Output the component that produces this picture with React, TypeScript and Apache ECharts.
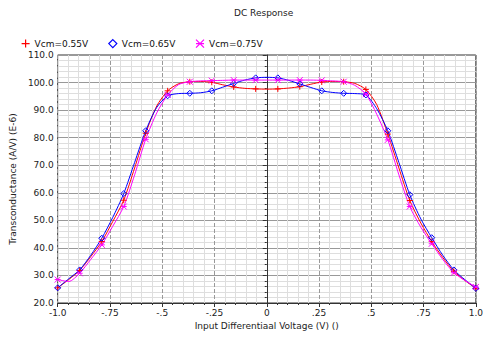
import React, { useEffect, useRef } from "react";
import * as echarts from "echarts";

const xs = [
  -1.0, -0.947, -0.895, -0.842, -0.789, -0.737, -0.684, -0.632, -0.579, -0.526,
  -0.474, -0.421, -0.368, -0.316, -0.263, -0.211, -0.158, -0.105, -0.053, 0.0,
  0.053, 0.105, 0.158, 0.211, 0.263, 0.316, 0.368, 0.421, 0.474, 0.526,
  0.579, 0.632, 0.684, 0.737, 0.789, 0.842, 0.895, 0.947, 1.0,
];

const vcm055 = [
  25.5, 28.5, 31.8, 36.8, 42.3, 49.5, 57.3, 69.0, 81.6, 91.5,
  97.0, 99.6, 100.3, 100.4, 100.1, 99.2, 98.4, 97.9, 97.7, 97.6,
  97.7, 98.0, 98.5, 99.4, 100.2, 100.4, 100.3, 99.7, 97.5, 92.0,
  81.3, 69.0, 57.2, 49.0, 42.3, 36.5, 31.5, 28.2, 25.3,
];

const vcm065 = [
  25.5, 28.8, 32.0, 37.3, 43.5, 51.0, 59.7, 71.0, 82.5, 91.0,
  95.2, 96.0, 96.1, 96.3, 97.0, 98.3, 99.7, 100.9, 101.7, 101.9,
  101.7, 100.8, 99.5, 98.2, 97.0, 96.4, 96.1, 96.0, 95.5, 90.5,
  82.5, 71.0, 59.3, 50.5, 43.7, 37.3, 32.0, 28.5, 25.3,
];

const vcm075 = [
  28.5, 27.8, 30.8, 35.8, 41.1, 47.8, 55.0, 66.5, 79.4, 89.0,
  95.5, 99.3, 100.3, 100.6, 100.7, 100.8, 100.9, 100.9, 100.9, 100.9,
  100.9, 100.9, 100.9, 100.9, 100.8, 100.6, 100.3, 99.0, 95.8, 88.5,
  79.2, 66.5, 55.0, 47.5, 41.5, 35.8, 31.0, 28.2, 25.8,
];

const seriesNames = ["Vcm=0.55V", "Vcm=0.65V", "Vcm=0.75V"];
const seriesColors = ["#ff0000", "#0000ff", "#ff00ff"];
const xTickLabels: Record<string, string> = {
  "-1": "-1.0",
  "-0.75": "-.75",
  "-0.5": "-.5",
  "-0.25": "-.25",
  "0": "0",
  "0.25": ".25",
  "0.5": ".5",
  "0.75": ".75",
  "1": "1.0",
};

const PLUS = "path://M0,5L10,5M5,0L5,10";
const DIAMOND = "path://M5,0L10,5L5,10L0,5Z";
const XSTAR = "path://M0,0L10,10M10,0L0,10M0,5L10,5";

const FONT = "DejaVu Sans";

function makeSeries(name: string, vals: number[], color: string, symbol: string, fill: string) {
  return {
    name,
    type: "line",
    smooth: 0.25,
    showAllSymbol: true,
    symbol,
    symbolSize: 6,
    lineStyle: { color, width: 1 },
    itemStyle: { color: fill, borderColor: color, borderWidth: 1 },
    data: xs.map((x, i) => ({
      value: [x, vals[i]],
      symbol: i % 2 === 0 ? symbol : "none",
    })),
  };
}

export default function App() {
  const ref = useRef<HTMLDivElement>(null);
  useEffect(() => {
    document.body.style.margin = "0";
    const chart = echarts.init(ref.current!, null, { renderer: "svg" });
    chart.setOption({
      animation: false,
      backgroundColor: "#ffffff",
      textStyle: { fontFamily: FONT },
      title: {
        text: "DC Response",
        left: 229,
        top: 3,
        textStyle: { fontFamily: FONT, fontSize: 9, fontWeight: "normal", color: "#222" },
      },
      legend: {
        left: 16,
        top: 34,
        itemWidth: 8,
        itemHeight: 8,
        itemGap: 20,
        textStyle: { fontFamily: FONT, fontSize: 9, color: "#111" },
        data: [
          { name: seriesNames[0], icon: PLUS, itemStyle: { color: seriesColors[0], borderColor: seriesColors[0], borderWidth: 1.2 } },
          { name: seriesNames[1], icon: DIAMOND, itemStyle: { color: "#ffffff", borderColor: seriesColors[1], borderWidth: 1.2 } },
          { name: seriesNames[2], icon: XSTAR, itemStyle: { color: seriesColors[2], borderColor: seriesColors[2], borderWidth: 1.2 } },
        ],
      },
      grid: {
        left: 49,
        right: 6,
        top: 55,
        bottom: 34,
        show: true,
        borderColor: "#333",
        borderWidth: 1,
        backgroundColor: "transparent",
      },
      xAxis: {
        type: "value",
        min: -1,
        max: 1,
        interval: 0.25,
        name: "Input Differentiaal Voltage (V) ()",
        nameLocation: "middle",
        nameGap: 16,
        nameTextStyle: { fontFamily: FONT, fontSize: 9, color: "#222" },
        axisLine: { lineStyle: { color: "#333" } },
        axisTick: { show: true, length: 4, lineStyle: { color: "#333" } },
        minorTick: { show: true, splitNumber: 5, length: 2, lineStyle: { color: "#333" } },
        axisLabel: {
          fontFamily: FONT,
          fontSize: 9,
          color: "#222",
          margin: 5,
          formatter: (v: number) => xTickLabels[String(Math.round(v * 100) / 100)] ?? String(v),
        },
        splitLine: { show: true, lineStyle: { color: "#999999", type: [4, 2], width: 1 } },
        minorSplitLine: { show: true, lineStyle: { color: "#dedede", width: 1 } },
      },
      yAxis: {
        type: "value",
        min: 20,
        max: 110,
        interval: 10,
        name: "Transconductance (A/V) (E-6)",
        nameLocation: "middle",
        nameGap: 34,
        nameTextStyle: { fontFamily: FONT, fontSize: 9, color: "#222" },
        axisLine: { show: true, lineStyle: { color: "#333" } },
        axisTick: { show: true, length: 4, lineStyle: { color: "#333" } },
        minorTick: { show: true, splitNumber: 5, length: 2, lineStyle: { color: "#333" } },
        axisLabel: {
          fontFamily: FONT,
          fontSize: 9,
          color: "#222",
          margin: 4,
          formatter: (v: number) => v.toFixed(1),
        },
        splitLine: { show: true, lineStyle: { color: "#999999", width: 1 } },
        minorSplitLine: { show: true, lineStyle: { color: "#dedede", width: 1 } },
      },
      series: [
        makeSeries(seriesNames[0], vcm055, seriesColors[0], PLUS, seriesColors[0]),
        makeSeries(seriesNames[1], vcm065, seriesColors[1], DIAMOND, "rgba(255,255,255,0)"),
        makeSeries(seriesNames[2], vcm075, seriesColors[2], XSTAR, seriesColors[2]),
      ],
    });
    return () => chart.dispose();
  }, []);
  return (
    <div
      ref={ref}
      style={{ position: "absolute", left: 0, top: 0, width: 486, height: 337 }}
    />
  );
}
